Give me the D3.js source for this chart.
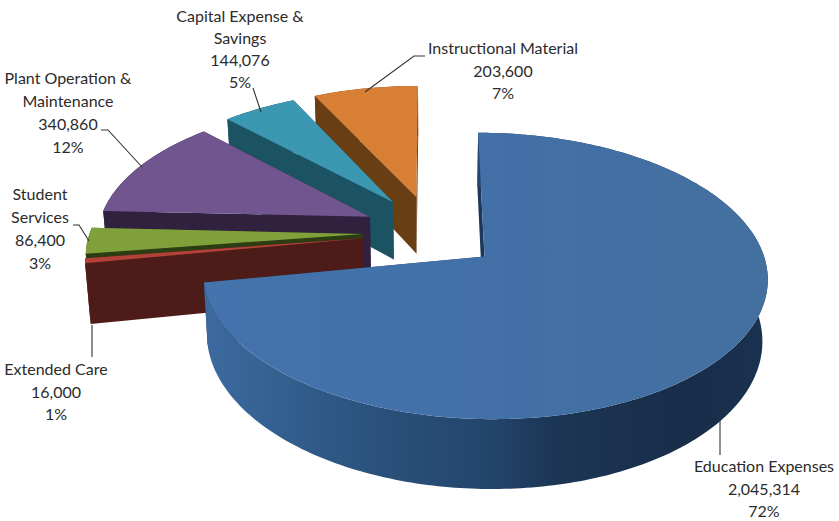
<!DOCTYPE html>
<html><head><meta charset="utf-8">
<style>html,body{margin:0;padding:0;background:#fff}svg{display:block}text{font-family:Lato,"Open Sans",sans-serif;font-size:16px;fill:#2b2b2b}</style>
<script src="https://cdn.jsdelivr.net/npm/d3@7"></script></head><body>
<svg id="c" width="839" height="521"></svg>
<script>
// Data
const categories = ["Education Expenses","Extended Care","Student Services","Plant Operation & Maintenance","Capital Expense & Savings","Instructional Material"];
const values = [2045314,16000,86400,340860,144076,203600];
const percents = ["72%","1%","3%","12%","5%","7%"];
const topColors = ["#4270a8","#b2413a","#80a03c","#71558f","#3c97b3","#d87f36"];
const wallColors = ["#2a5078","#4e1c18","#2c3d14","#30213f","#1c5363","#683e12"];
const labelLines = [["Education Expenses"],["Extended Care"],["Student","Services"],["Plant Operation &","Maintenance"],["Capital Expense &","Savings"],["Instructional Material"]];
const drawOrder = [5,4,3,2,1,0];

// Layout
const W=839,H=521,cx=431,cy=232,a=273,b=134,k=0.132,ex=0.249,ey=0.28,depth=59,shrink=0.984;
const labelAnchors=[[764,467],[56,370],[40,195],[68,79],[240,17],[503,49]];
const labelSpacing=[22.5,22.5,23,23,22,22.5];
const leaders=[[[720,420],[720,455]],[[92,325],[92,357]],[[73,225],[79,225],[89,241]],[[101,130],[108,130],[142,167]],[[253,88],[261,112]],[[425,56],[414,56],[365,92]]];

const svg=d3.select("#c");
const defs=svg.append("defs");
const xS=d3.scaleLinear().domain([-1,1]).range([cx-a,cx+a]);
const yS=d3.scaleLinear().domain([-1,1]).range([cy-b,cy+b]);
function proj(U,V,low){
  const w=1-k*V; let x=xS(U/w), y=yS(V/w);
  if(low){x=cx+(x-cx)*shrink; y+=depth/w;}
  return [x,y];
}
const line=d3.line();
const arcs=d3.pie().sort(null).startAngle(0).endAngle(2*Math.PI)(values);
const fmt=d3.format(",");

function geom(d){
  const m=(d.startAngle+d.endAngle)/2;
  const ax=ex*Math.sin(m), ay=-ey*Math.cos(m);
  const pts=[];
  const n=Math.max(2,Math.ceil((d.endAngle-d.startAngle)/(Math.PI/180)));
  for(let i=0;i<=n;i++){
    const t=d.startAngle+(d.endAngle-d.startAngle)*i/n;
    pts.push([ax+Math.sin(t),ay-Math.cos(t)]);
  }
  return {apex:[ax,ay],rim:pts};
}
const lo=p=>proj(p[0],p[1],true), hi=p=>proj(p[0],p[1],false);

// gradients
const wg=defs.append("linearGradient").attr("id","blueWall").attr("gradientUnits","userSpaceOnUse").attr("x1",205).attr("x2",767).attr("y1",0).attr("y2",0);
[[0,"#3d6a9f"],[0.2,"#2f5a88"],[0.3,"#2a527c"],[0.5,"#24456c"],[0.62,"#1c3655"],[0.85,"#182d49"],[1,"#1a3150"]].forEach(s=>wg.append("stop").attr("offset",s[0]).attr("stop-color",s[1]));
const tg=defs.append("linearGradient").attr("id","blueTop").attr("gradientUnits","userSpaceOnUse").attr("x1",205).attr("x2",767).attr("y1",0).attr("y2",0);
[[0,"#4473ad"],[0.5,"#4270a7"],[1,"#44709f"]].forEach(s=>tg.append("stop").attr("offset",s[0]).attr("stop-color",s[1]));

drawOrder.forEach(i=>{
  const d=arcs[i],g=geom(d),gp=svg.append("g");
  const wc=i===0?"url(#blueWall)":wallColors[i];
  const sideStart=[hi(g.apex),hi(g.rim[0]),lo(g.rim[0]),lo(g.apex)];
  const sideEnd=[hi(g.apex),hi(g.rim[g.rim.length-1]),lo(g.rim[g.rim.length-1]),lo(g.apex)];
  const rimWall=g.rim.map(hi).concat(g.rim.map(lo).reverse());
  [sideEnd,sideStart].forEach(p=>gp.append("path").attr("d",line(p)+"Z").attr("fill",i===0?"#1d3857":wallColors[i]));
  gp.append("path").attr("d",line(rimWall)+"Z").attr("fill",wc);
  gp.append("path").attr("d",line([hi(g.apex),...g.rim.map(hi)])+"Z").attr("fill",i===0?"url(#blueTop)":topColors[i]);
});

// leaders
leaders.forEach(p=>svg.append("path").attr("d",line(p)).attr("fill","none").attr("stroke","#333").attr("stroke-width",1.1));

// labels
categories.forEach((c,i)=>{
  const lines=[...labelLines[i],fmt(values[i]),percents[i]];
  const t=svg.append("text").attr("text-anchor","middle");
  lines.forEach((s,j)=>t.append("tspan").attr("x",labelAnchors[i][0]).attr("y",labelAnchors[i][1]+5+j*labelSpacing[i]).text(s));
});
</script></body></html>
